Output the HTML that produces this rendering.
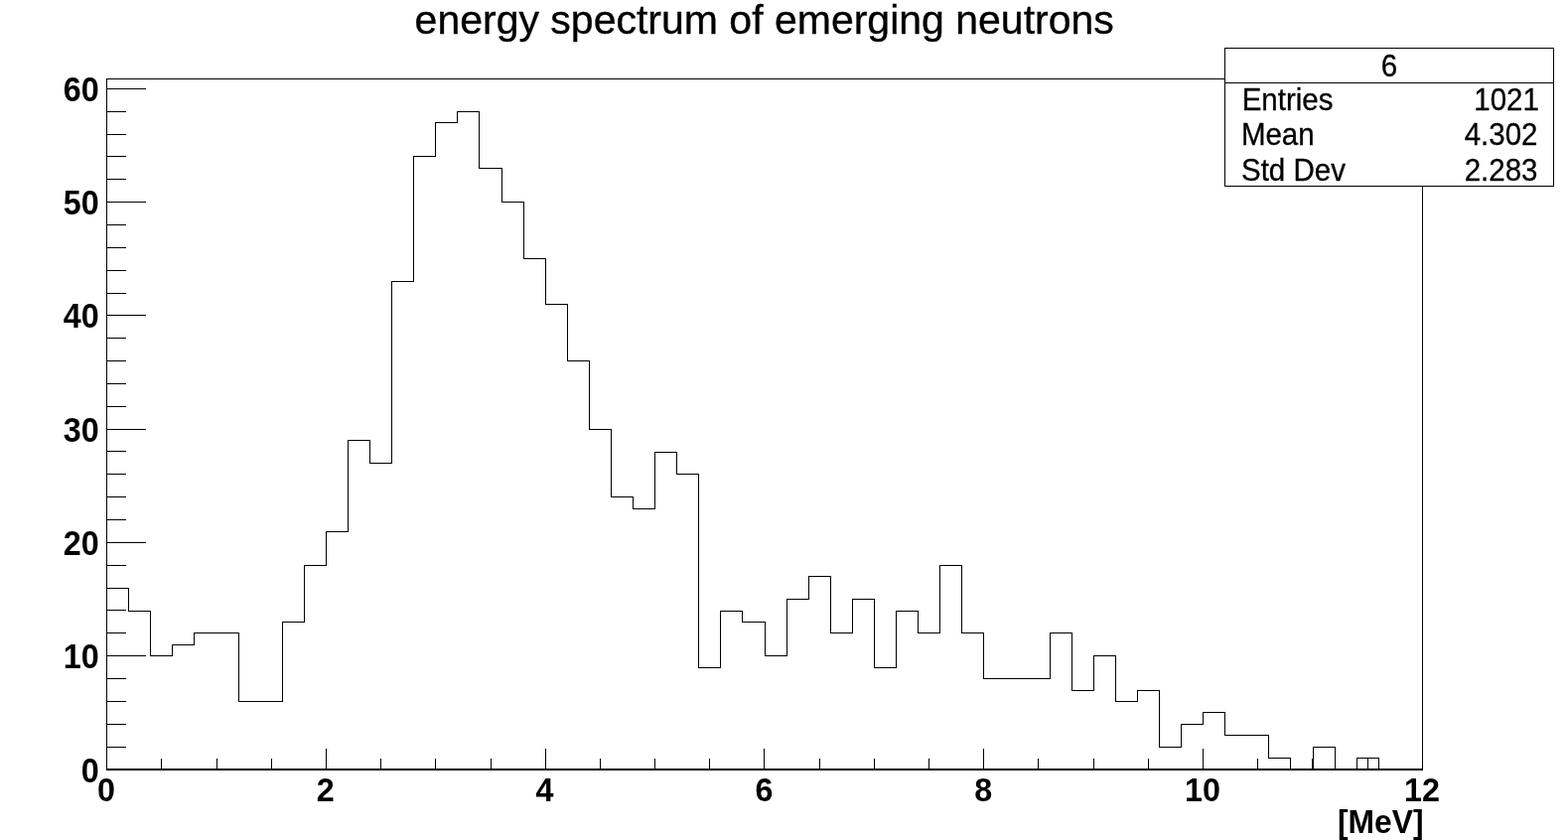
<!DOCTYPE html>
<html><head><meta charset="utf-8"><title>energy spectrum of emerging neutrons</title>
<style>
html,body{margin:0;padding:0;background:#fff;}
body{width:1579px;height:846px;position:relative;overflow:hidden;}
svg{position:absolute;left:0;top:0;display:block;}
text{font-family:"Liberation Sans",Arial,Helvetica,sans-serif;fill:#000;}
.title{font-size:41px;stroke:#000;stroke-width:0.35px;}
.ax{font-weight:bold;font-size:33.5px;}
.st{font-size:29.5px;stroke:#000;stroke-width:0.3px;}
</style></head><body>
<svg width="1579" height="846" viewBox="0 0 1579 846">
<g shape-rendering="crispEdges">
<path d="M107 79h1326v1h-1326zM107 775h1326v1h-1326zM107 79h1v697h-1zM1432 79h1v697h-1zM107 774h1326v1h-1326zM107 592h1v183h-1zM107 592h23v1h-23zM129 592h1v24h-1zM129 615h23v1h-23zM151 615h1v46h-1zM151 660h23v1h-23zM173 649h1v12h-1zM173 649h23v1h-23zM195 637h1v13h-1zM195 637h23v1h-23zM217 637h24v1h-24zM240 637h1v70h-1zM240 706h23v1h-23zM262 706h23v1h-23zM284 626h1v81h-1zM284 626h23v1h-23zM306 569h1v58h-1zM306 569h23v1h-23zM328 535h1v35h-1zM328 535h23v1h-23zM350 443h1v93h-1zM350 443h23v1h-23zM372 443h1v24h-1zM372 466h23v1h-23zM394 283h1v184h-1zM394 283h23v1h-23zM416 157h1v127h-1zM416 157h23v1h-23zM438 123h1v35h-1zM438 123h23v1h-23zM460 112h1v12h-1zM460 112h23v1h-23zM482 112h1v58h-1zM482 169h24v1h-24zM505 169h1v35h-1zM505 203h23v1h-23zM527 203h1v58h-1zM527 260h23v1h-23zM549 260h1v47h-1zM549 306h23v1h-23zM571 306h1v58h-1zM571 363h23v1h-23zM593 363h1v70h-1zM593 432h23v1h-23zM615 432h1v69h-1zM615 500h23v1h-23zM637 500h1v13h-1zM637 512h23v1h-23zM659 455h1v58h-1zM659 455h23v1h-23zM681 455h1v23h-1zM681 477h23v1h-23zM703 477h1v196h-1zM703 672h23v1h-23zM725 615h1v58h-1zM725 615h23v1h-23zM747 615h1v12h-1zM747 626h24v1h-24zM770 626h1v35h-1zM770 660h23v1h-23zM792 603h1v58h-1zM792 603h23v1h-23zM814 580h1v24h-1zM814 580h23v1h-23zM836 580h1v58h-1zM836 637h23v1h-23zM858 603h1v35h-1zM858 603h23v1h-23zM880 603h1v70h-1zM880 672h23v1h-23zM902 615h1v58h-1zM902 615h23v1h-23zM924 615h1v23h-1zM924 637h23v1h-23zM946 569h1v69h-1zM946 569h23v1h-23zM968 569h1v69h-1zM968 637h23v1h-23zM990 637h1v47h-1zM990 683h23v1h-23zM1012 683h24v1h-24zM1035 683h23v1h-23zM1057 637h1v47h-1zM1057 637h23v1h-23zM1079 637h1v59h-1zM1079 695h23v1h-23zM1101 660h1v36h-1zM1101 660h23v1h-23zM1123 660h1v47h-1zM1123 706h23v1h-23zM1145 695h1v12h-1zM1145 695h23v1h-23zM1167 695h1v58h-1zM1167 752h23v1h-23zM1189 729h1v24h-1zM1189 729h23v1h-23zM1211 717h1v13h-1zM1211 717h23v1h-23zM1233 717h1v24h-1zM1233 740h23v1h-23zM1255 740h23v1h-23zM1277 740h1v24h-1zM1277 763h23v1h-23zM1299 763h1v12h-1zM1299 774h24v1h-24zM1322 752h1v23h-1zM1322 752h23v1h-23zM1344 752h1v23h-1zM1344 774h23v1h-23zM1366 763h1v12h-1zM1366 763h23v1h-23zM1388 763h1v12h-1zM1388 774h23v1h-23zM1410 774h23v1h-23zM107 775h40v1h-40zM107 752h20v1h-20zM107 729h20v1h-20zM107 706h20v1h-20zM107 683h20v1h-20zM107 660h40v1h-40zM107 637h20v1h-20zM107 614h20v1h-20zM107 592h20v1h-20zM107 569h20v1h-20zM107 546h40v1h-40zM107 523h20v1h-20zM107 500h20v1h-20zM107 477h20v1h-20zM107 454h20v1h-20zM107 432h40v1h-40zM107 409h20v1h-20zM107 386h20v1h-20zM107 363h20v1h-20zM107 340h20v1h-20zM107 317h40v1h-40zM107 295h20v1h-20zM107 272h20v1h-20zM107 249h20v1h-20zM107 226h20v1h-20zM107 203h40v1h-40zM107 180h20v1h-20zM107 157h20v1h-20zM107 135h20v1h-20zM107 112h20v1h-20zM107 89h40v1h-40zM107 754h1v22h-1zM162 764h1v12h-1zM218 764h1v12h-1zM273 764h1v12h-1zM328 754h1v22h-1zM383 764h1v12h-1zM438 764h1v12h-1zM494 764h1v12h-1zM549 754h1v22h-1zM604 764h1v12h-1zM659 764h1v12h-1zM714 764h1v12h-1zM769 754h1v22h-1zM825 764h1v12h-1zM880 764h1v12h-1zM935 764h1v12h-1zM990 754h1v22h-1zM1045 764h1v12h-1zM1101 764h1v12h-1zM1156 764h1v12h-1zM1211 754h1v22h-1zM1266 764h1v12h-1zM1321 764h1v12h-1zM1377 764h1v12h-1zM1432 754h1v22h-1z" fill="#000"/>
<rect x="1233.5" y="48.5" width="331" height="139" fill="#fff" stroke="#000" stroke-width="1"/>
<path d="M1233 83h332v1h-332z" fill="#000"/>
</g>
<text class="title" text-anchor="start" transform="translate(417.60 33.50) scale(1 1)">energy spectrum of emerging neutrons</text>
<text class="ax" text-anchor="end" transform="translate(99.70 787.50) scale(0.965 1.02)">0</text>
<text class="ax" text-anchor="end" transform="translate(99.70 672.50) scale(0.965 1.02)">10</text>
<text class="ax" text-anchor="end" transform="translate(99.70 558.50) scale(0.965 1.02)">20</text>
<text class="ax" text-anchor="end" transform="translate(99.70 444.50) scale(0.965 1.02)">30</text>
<text class="ax" text-anchor="end" transform="translate(99.70 329.50) scale(0.965 1.02)">40</text>
<text class="ax" text-anchor="end" transform="translate(99.70 215.50) scale(0.965 1.02)">50</text>
<text class="ax" text-anchor="end" transform="translate(99.70 101.50) scale(0.965 1.02)">60</text>
<text class="ax" text-anchor="middle" transform="translate(106.90 807.20) scale(0.965 1)">0</text>
<text class="ax" text-anchor="middle" transform="translate(327.73 807.20) scale(0.965 1)">2</text>
<text class="ax" text-anchor="middle" transform="translate(548.57 807.20) scale(0.965 1)">4</text>
<text class="ax" text-anchor="middle" transform="translate(769.40 807.20) scale(0.965 1)">6</text>
<text class="ax" text-anchor="middle" transform="translate(990.23 807.20) scale(0.965 1)">8</text>
<text class="ax" text-anchor="middle" transform="translate(1211.07 807.20) scale(0.965 1)">10</text>
<text class="ax" text-anchor="middle" transform="translate(1431.90 807.20) scale(0.965 1)">12</text>
<text class="ax" text-anchor="end" transform="translate(1433.50 839.00) scale(0.95 0.985)">[MeV]</text>
<text class="st" text-anchor="middle" transform="translate(1399.00 77.10) scale(1 1.04)">6</text>
<text class="st" text-anchor="start" transform="translate(1250.70 111.00) scale(1 1.04)">Entries</text>
<text class="st" text-anchor="end" transform="translate(1549.90 111.00) scale(1 1.04)">1021</text>
<text class="st" text-anchor="start" transform="translate(1249.90 146.00) scale(1 1.04)">Mean</text>
<text class="st" text-anchor="end" transform="translate(1548.50 146.00) scale(1 1.04)">4.302</text>
<text class="st" text-anchor="start" transform="translate(1250.00 182.10) scale(1 1.04)">Std Dev</text>
<text class="st" text-anchor="end" transform="translate(1548.50 182.10) scale(1 1.04)">2.283</text>
</svg></body></html>
